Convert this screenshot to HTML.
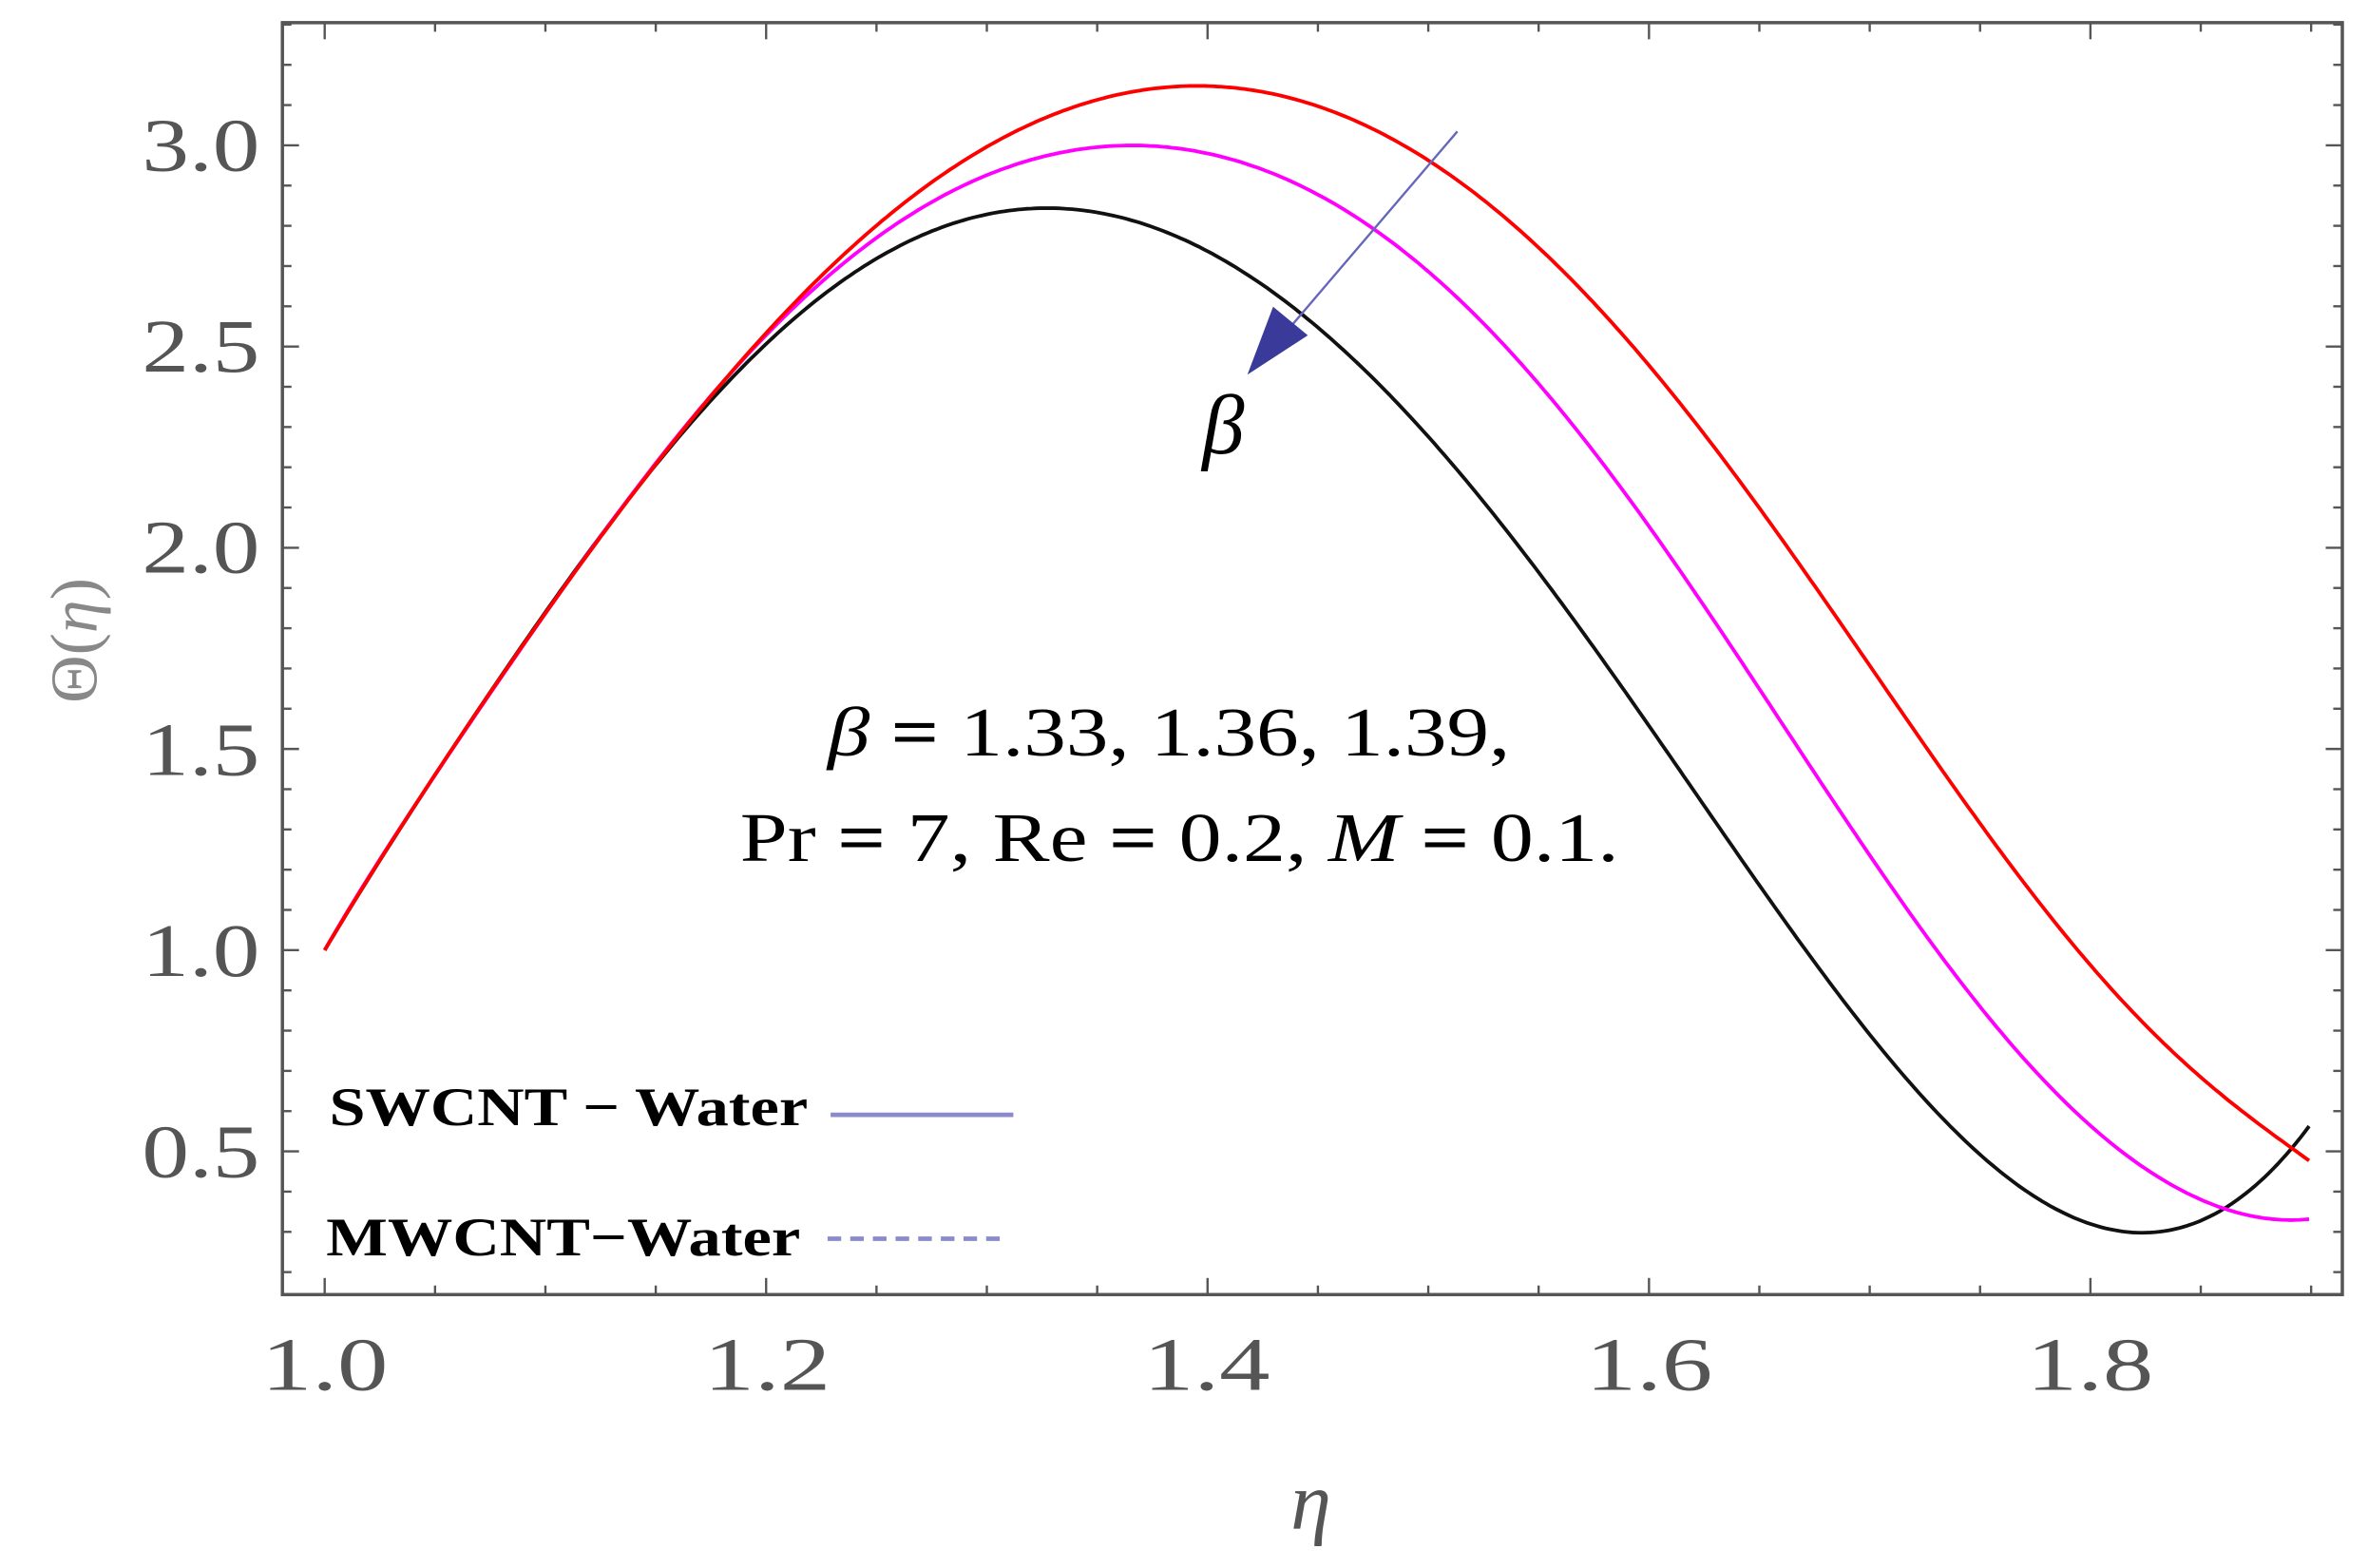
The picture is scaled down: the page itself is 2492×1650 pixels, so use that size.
<!DOCTYPE html>
<html><head><meta charset="utf-8"><style>
html,body{margin:0;padding:0;background:#fff;}
svg{display:block;}
text{font-family:"Liberation Serif",serif;}
</style></head><body>
<svg id="s" width="2492" height="1650" viewBox="0 0 1568 1038" preserveAspectRatio="none" xmlns="http://www.w3.org/2000/svg">
<rect x="0" y="0" width="1568" height="1038" fill="#fff"/>
<g id="ticks" stroke="#555" stroke-width="1.5"></g>
<rect x="187" y="15" width="1364" height="842" fill="none" stroke="#555" stroke-width="2.2"/>
<g font-size="50" fill="#555" text-anchor="middle">
<text x="215" y="920" textLength="84" lengthAdjust="spacingAndGlyphs">1.0</text>
<text x="508" y="920" textLength="84" lengthAdjust="spacingAndGlyphs">1.2</text>
<text x="799" y="920" textLength="84" lengthAdjust="spacingAndGlyphs">1.4</text>
<text x="1092" y="920" textLength="84" lengthAdjust="spacingAndGlyphs">1.6</text>
<text x="1384" y="920" textLength="84" lengthAdjust="spacingAndGlyphs">1.8</text>
</g>
<g font-size="50" fill="#555">
<text x="94" y="113" textLength="78" lengthAdjust="spacingAndGlyphs">3.0</text>
<text x="94" y="246" textLength="78" lengthAdjust="spacingAndGlyphs">2.5</text>
<text x="94" y="379" textLength="78" lengthAdjust="spacingAndGlyphs">2.0</text>
<text x="94" y="513" textLength="78" lengthAdjust="spacingAndGlyphs">1.5</text>
<text x="94" y="646" textLength="78" lengthAdjust="spacingAndGlyphs">1.0</text>
<text x="94" y="779" textLength="78" lengthAdjust="spacingAndGlyphs">0.5</text>
</g>
<text x="0" y="0" font-size="44" fill="#888" text-anchor="middle" transform="translate(64,424) rotate(-90)">Θ(<tspan font-style="italic">η</tspan>)</text>
<text x="868" y="1012" font-size="54" fill="#555" font-style="italic" text-anchor="middle">η</text>
<path id="cb" fill="none" stroke="#111" stroke-width="2.4"/>
<path id="cm" fill="none" stroke="#f0f" stroke-width="2.4"/>
<path id="cr" fill="none" stroke="#f00" stroke-width="2.4"/>
<line x1="965" y1="87" x2="848" y2="224" stroke="#6666bb" stroke-width="1.5"/>
<polygon points="826,248 843,203 866,222" fill="#3a3a9a"/>
<text x="810" y="300" font-size="56" font-style="italic" fill="#000" text-anchor="middle">β</text>
<text x="548" y="500" font-size="46" fill="#000" textLength="452" lengthAdjust="spacingAndGlyphs"><tspan font-style="italic">β</tspan> <tspan font-weight="bold">=</tspan> 1.33, 1.36, 1.39,</text>
<text x="490" y="570" font-size="46" fill="#000" textLength="582" lengthAdjust="spacingAndGlyphs">Pr <tspan font-weight="bold">=</tspan> 7, Re <tspan font-weight="bold">=</tspan> 0.2, <tspan font-style="italic">M</tspan> <tspan font-weight="bold">=</tspan> 0.1.</text>
<text x="218" y="745" font-size="36" font-weight="bold" fill="#000" textLength="317" lengthAdjust="spacingAndGlyphs">SWCNT − Water</text>
<line x1="550" y1="738" x2="671" y2="738" stroke="#8a8acc" stroke-width="3"/>
<text x="216" y="831" font-size="36" font-weight="bold" fill="#000" textLength="314" lengthAdjust="spacingAndGlyphs">MWCNT−Water</text>
<line x1="548" y1="820" x2="667" y2="820" stroke="#8a8acc" stroke-width="3" stroke-dasharray="9,6"/>
</svg>
<script>
var ns="http://www.w3.org/2000/svg";
var g=document.getElementById("ticks");
function L(x1,y1,x2,y2){var l=document.createElementNS(ns,"line");l.setAttribute("x1",x1);l.setAttribute("y1",y1);l.setAttribute("x2",x2);l.setAttribute("y2",y2);g.appendChild(l);}
for(var i=0;i<=18;i++){var v=1+i*0.05;var x=215+(v-1)*1461.5;if(x>1550)break;var len=(i%4==0)?11:6;L(x,857,x,857-len);L(x,15,x,15+len);}
for(var i=0;i<=40;i++){var v=0.1+i*0.1;var y=629-(v-1)*266.4;if(y<16||y>856)continue;var maj=Math.abs(v*2-Math.round(v*2))<1e-6;var len=maj?11:6;L(187,y,187+len,y);L(1551,y,1551-len,y);}
function fit(pts,deg){
  var X0=215,X1=1530;function t(x){return (2*x-X0-X1)/(X1-X0);}
  var n=deg+1,A=[],b=[];for(var i=0;i<n;i++){A.push(new Array(n).fill(0));b.push(0);}
  pts.forEach(function(p){var w=p[2]||1,tt=t(p[0]),pw=[];for(var k=0;k<2*n;k++)pw.push(Math.pow(tt,k));
    for(var i=0;i<n;i++){b[i]+=w*pw[i]*p[1];for(var j=0;j<n;j++)A[i][j]+=w*pw[i+j];}});
  for(var i=0;i<n;i++){var m=i;for(var r=i+1;r<n;r++)if(Math.abs(A[r][i])>Math.abs(A[m][i]))m=r;
    var tmp=A[i];A[i]=A[m];A[m]=tmp;var tb=b[i];b[i]=b[m];b[m]=tb;
    for(var r=0;r<n;r++){if(r==i)continue;var f=A[r][i]/A[i][i];for(var c=i;c<n;c++)A[r][c]-=f*A[i][c];b[r]-=f*b[i];}}
  var co=b.map(function(v,i){return v/A[i][i];});
  var d="";for(var x=X0;x<=X1+0.01;x+=3){var tt=t(x),y=0;for(var k=n-1;k>=0;k--)y=y*tt+co[k];d+=(d?" L":"M")+x.toFixed(1)+","+y.toFixed(1);}
  return d;}
var common=[[215,629,8],[260,556],[303,489],[350,424],[391,365],[430,313],[463,268]];
var black=common.concat([[505,228],[550,196],[604,164],[664,139],[705,134],[750,143],[810,173],[870,217],[930,273],[990,345],[1030,391],[1084,466],[1138,546],[1192,625],[1246,698],[1301,755],[1355,795],[1413,815],[1463,806],[1499,781],[1530,744,5]]);
var mag=common.concat([[504,224],[544,188],[604,144],[664,112],[689,102],[750,96],[810,104],[870,128],[930,169],[990,220],[1051,290],[1120,394],[1174,470],[1228,549],[1283,629],[1337,698],[1391,752],[1445,788],[1489,804],[1530,807,5]]);
var red=common.concat([[504,224],[544,184],[604,132],[664,92],[700,73],[770,57],[830,60],[890,76],[950,112],[1011,157],[1071,215],[1131,290],[1192,376],[1246,452],[1301,531],[1355,604],[1409,665],[1463,719],[1530,769,5]]);
document.getElementById("cb").setAttribute("d",fit(black,9));
document.getElementById("cm").setAttribute("d",fit(mag,9));
document.getElementById("cr").setAttribute("d",fit(red,9));
</script>
</body></html>
